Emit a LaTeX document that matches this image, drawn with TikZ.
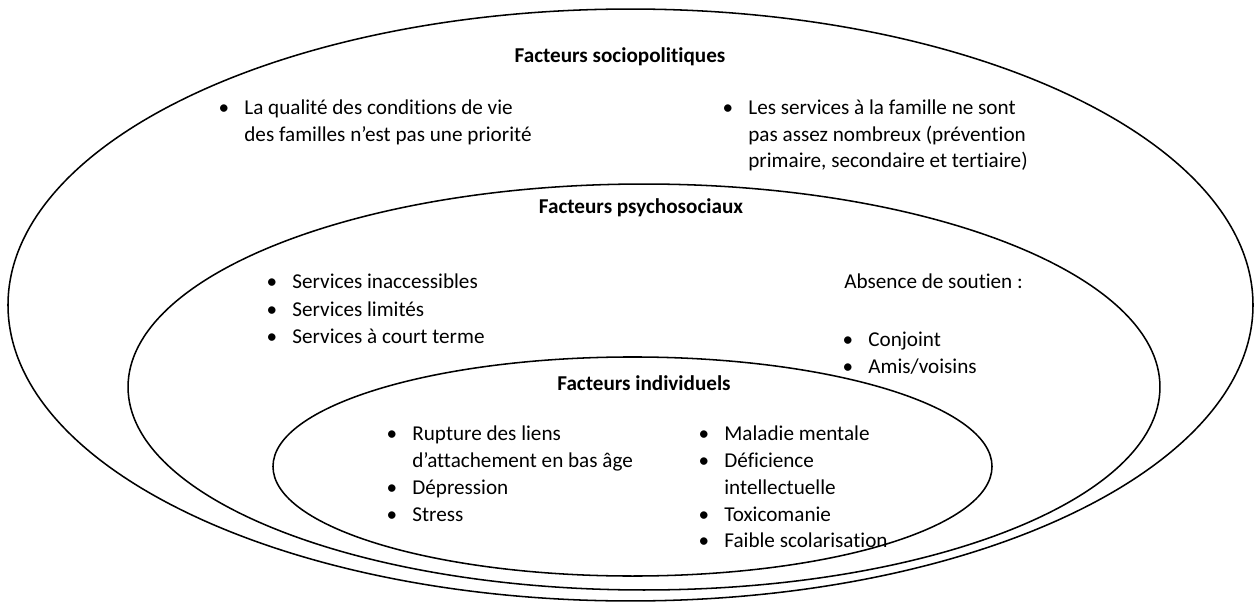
\documentclass[tikz,border=0pt]{standalone}
\usepackage{fontspec}
\setmainfont[Ligatures=NoCommon]{Carlito}
\usetikzlibrary{shapes.geometric}

\begin{document}
\begin{tikzpicture}[x=0.52pt, y=-0.52pt,
    ring/.style={ellipse, draw=black, line width=0.8pt, inner sep=0pt},
    title/.style={font=\fontsize{11}{13}\selectfont\bfseries, anchor=base, inner sep=0pt},
    item/.style={font=\fontsize{11}{13}\selectfont, anchor=base west, inner sep=0pt},
    dot/.style={font=\fontsize{11}{13}\selectfont, anchor=base, inner sep=0pt}
]

\useasboundingbox (0,0) rectangle (1255,603);

% Ellipses
\node[ring, minimum width=647.4pt, minimum height=307.8pt] (outer) at (630.5,305) {};
\node[ring, minimum width=536.6pt, minimum height=211.1pt] (middle) at (644,387) {};
\node[ring, minimum width=373.9pt, minimum height=113.9pt] (inner) at (632.5,466.5) {};

% Facteurs sociopolitiques
\node[title] (socio) at (620,63) {Facteurs sociopolitiques};

\node[dot] (socio-b1) at (224,115) {\textbullet};
\node[item] (socio-l1) at (244,115) {La qualité des conditions de vie};
\node[item] (socio-l2) at (244,141.5) {des familles n’est pas une priorité};

\node[dot] (socio-b2) at (728,115) {\textbullet};
\node[item] (socio-r1) at (748,115) {Les services à la famille ne sont};
\node[item] (socio-r2) at (748,141.5) {pas assez nombreux (prévention};
\node[item] (socio-r3) at (748,168) {primaire, secondaire et tertiaire)};

% Facteurs psychosociaux
\node[title] (psycho) at (641,213) {Facteurs psychosociaux};

\foreach \y/\txt [count=\i] in {288/Services inaccessibles, 316/Services limités, 343/Services à court terme} {
  \node[dot] (psycho-b\i) at (272,\y) {\textbullet};
  \node[item] (psycho-l\i) at (292,\y) {\txt};
}

\node[item] (soutien) at (844,288) {Absence de soutien :};
\node[dot] (soutien-b1) at (848,346) {\textbullet};
\node[item] (soutien-1) at (868,346) {Conjoint};
\node[dot] (soutien-b2) at (848,373) {\textbullet};
\node[item] (soutien-2) at (868,373) {Amis/voisins};

% Facteurs individuels
\node[title] (indiv) at (644,390) {Facteurs individuels};

\node[dot] (indiv-b1) at (392,440) {\textbullet};
\node[item] (indiv-l1) at (412,440) {Rupture des liens};
\node[item] (indiv-l2) at (412,467) {d’attachement en bas âge};
\node[dot] (indiv-b2) at (392,494) {\textbullet};
\node[item] (indiv-l3) at (412,494) {Dépression};
\node[dot] (indiv-b3) at (392,521) {\textbullet};
\node[item] (indiv-l4) at (412,521) {Stress};

\node[dot] (indiv-b4) at (704,440) {\textbullet};
\node[item] (indiv-r1) at (724,440) {Maladie mentale};
\node[dot] (indiv-b5) at (704,467) {\textbullet};
\node[item] (indiv-r2) at (724,467) {Déficience};
\node[item] (indiv-r3) at (724,494) {intellectuelle};
\node[dot] (indiv-b6) at (704,521) {\textbullet};
\node[item] (indiv-r4) at (724,521) {Toxicomanie};
\node[dot] (indiv-b7) at (704,547) {\textbullet};
\node[item] (indiv-r5) at (724,547) {Faible scolarisation};

\end{tikzpicture}
\end{document}
